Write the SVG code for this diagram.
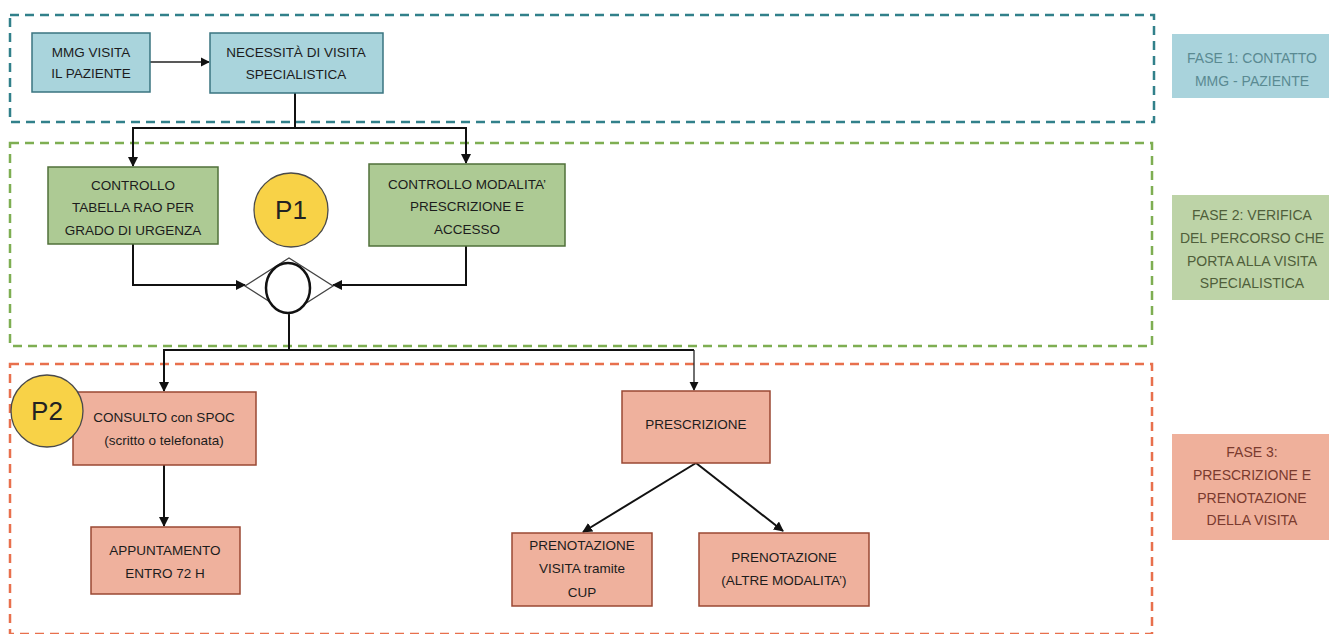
<svg xmlns="http://www.w3.org/2000/svg" width="1329" height="634" viewBox="0 0 1329 634">
  <style>
    text { font-family: "Liberation Sans", Arial, sans-serif; font-size: 13.5px; fill: #1c1c1c; text-anchor: middle; }
    .phase { fill: none; stroke-width: 2.5; stroke-dasharray: 9 6; }
    .p1 { stroke: #31808A; }
    .p2 { stroke: #7EAE52; }
    .p3 { stroke: #E8704D; }
    .n1 { fill: #A9D4DC; stroke: #3A7480; stroke-width: 1.5; }
    .n2 { fill: #ADCA94; stroke: #50703A; stroke-width: 1.5; }
    .n3 { fill: #EFB19D; stroke: #9A4833; stroke-width: 1.5; }
    .badge { fill: #F8D247; stroke: #4A4A4A; stroke-width: 1.3; }
    .badge-t { font-size: 26px; fill: #222; }
    .lab1 { fill: #A9D3DC; }
    .lab2 { fill: #BDD3A7; }
    .lab3 { fill: #EFB09B; }
    .lt1 { fill: #5A8A92; font-size: 14px; }
    .lt2 { fill: #4F5E3A; font-size: 14px; }
    .lt3 { fill: #7A3A2E; font-size: 14px; }
    .wire { fill: none; stroke: #111; stroke-width: 2; }
    .thin { fill: none; stroke: #222; stroke-width: 1.3; }
  </style>
  <defs>
    <marker id="arrow" viewBox="0 0 10 10" refX="9" refY="5" markerWidth="5" markerHeight="5" orient="auto" markerUnits="strokeWidth">
      <path d="M0,0 L10,5 L0,10 z" fill="#111"/>
    </marker>
    <marker id="arrowT" viewBox="0 0 10 10" refX="9" refY="5" markerWidth="7" markerHeight="7" orient="auto" markerUnits="strokeWidth">
      <path d="M0,0 L10,5 L0,10 z" fill="#111"/>
    </marker>
  </defs>

  <!-- phase frames -->
  <g id="phases">
    <rect class="phase p1" x="10" y="15" width="1144" height="107"/>
    <rect class="phase p2" x="10" y="143" width="1142" height="203"/>
    <rect class="phase p3" x="10" y="364" width="1142" height="270"/>
  </g>

  <!-- phase labels -->
  <g id="label-fase1">
    <rect class="lab1" x="1172" y="34" width="157" height="64"/>
    <text class="lt1" x="1252" y="63">FASE 1: CONTATTO</text>
    <text class="lt1" x="1252" y="86">MMG - PAZIENTE</text>
  </g>
  <g id="label-fase2">
    <rect class="lab2" x="1172" y="195" width="157" height="105"/>
    <text class="lt2" x="1252" y="220">FASE 2: VERIFICA</text>
    <text class="lt2" x="1252" y="243">DEL PERCORSO CHE</text>
    <text class="lt2" x="1252" y="266">PORTA ALLA VISITA</text>
    <text class="lt2" x="1252" y="288">SPECIALISTICA</text>
  </g>
  <g id="label-fase3">
    <rect class="lab3" x="1172" y="434" width="157" height="106"/>
    <text class="lt3" x="1252" y="457">FASE 3:</text>
    <text class="lt3" x="1252" y="480">PRESCRIZIONE E</text>
    <text class="lt3" x="1252" y="503">PRENOTAZIONE</text>
    <text class="lt3" x="1252" y="525">DELLA VISITA</text>
  </g>

  <!-- connectors -->
  <g id="connectors">
    <line class="thin" x1="150" y1="62" x2="209" y2="62" marker-end="url(#arrowT)"/>
    <polyline class="wire" points="295,93 295,128 133,128 133,166" marker-end="url(#arrow)"/>
    <polyline class="wire" points="295,128 466,128 466,163" marker-end="url(#arrow)"/>
    <polyline class="wire" points="133,244 133,285 245,285" marker-end="url(#arrow)"/>
    <polyline class="wire" points="466,246 466,285 333,285" marker-end="url(#arrow)"/>
    <polyline class="wire" points="289,314 289,350 164,350 164,391" marker-end="url(#arrow)"/>
    <polyline class="wire" points="289,350 694,350"/>
    <line class="thin" x1="694" y1="350" x2="694" y2="390" marker-end="url(#arrowT)"/>
    <line class="wire" x1="164" y1="465" x2="164" y2="526" marker-end="url(#arrow)"/>
    <line class="wire" x1="696" y1="463" x2="583" y2="532" marker-end="url(#arrow)"/>
    <line class="wire" x1="696" y1="463" x2="783" y2="531" marker-end="url(#arrow)"/>
  </g>

  <!-- phase 1 nodes -->
  <g id="mmg-visita">
    <rect class="n1" x="32" y="33" width="118" height="59"/>
    <text x="91" y="57">MMG VISITA</text>
    <text x="91" y="78">IL PAZIENTE</text>
  </g>
  <g id="necessita-visita">
    <rect class="n1" x="210" y="33" width="173" height="60"/>
    <text x="296" y="57">NECESSITÀ DI VISITA</text>
    <text x="296" y="79">SPECIALISTICA</text>
  </g>

  <!-- phase 2 nodes -->
  <g id="controllo-rao">
    <rect class="n2" x="48" y="167" width="170" height="77"/>
    <text x="133" y="190">CONTROLLO</text>
    <text x="133" y="212">TABELLA RAO PER</text>
    <text x="133" y="235">GRADO DI URGENZA</text>
  </g>
  <g id="controllo-modalita">
    <rect class="n2" x="369" y="164" width="196" height="82"/>
    <text x="467" y="189">CONTROLLO MODALITA’</text>
    <text x="467" y="211">PRESCRIZIONE E</text>
    <text x="467" y="234">ACCESSO</text>
  </g>
  <g id="p1">
    <circle class="badge" cx="291" cy="210" r="37"/>
    <text class="badge-t" x="291" y="219">P1</text>
  </g>
  <g id="gateway">
    <polygon points="245,286 289,258 333,286 289,314" fill="#fff" stroke="#444" stroke-width="1.3"/>
    <ellipse cx="288" cy="288" rx="22" ry="25" fill="#fff" stroke="#111" stroke-width="2.5"/>
  </g>

  <!-- phase 3 nodes -->
  <g id="consulto-spoc">
    <rect class="n3" x="73" y="392" width="183" height="73"/>
    <text x="164" y="422">CONSULTO con SPOC</text>
    <text x="164" y="445">(scritto o telefonata)</text>
  </g>
  <g id="p2">
    <circle class="badge" cx="47" cy="411" r="36"/>
    <text class="badge-t" x="47" y="420">P2</text>
  </g>
  <g id="appuntamento">
    <rect class="n3" x="91" y="527" width="149" height="67"/>
    <text x="165" y="555">APPUNTAMENTO</text>
    <text x="165" y="578">ENTRO 72 H</text>
  </g>
  <g id="prescrizione">
    <rect class="n3" x="622" y="391" width="148" height="72"/>
    <text x="696" y="429">PRESCRIZIONE</text>
  </g>
  <g id="prenotazione-cup">
    <rect class="n3" x="512" y="533" width="140" height="73"/>
    <text x="582" y="550">PRENOTAZIONE</text>
    <text x="582" y="573">VISITA tramite</text>
    <text x="582" y="597">CUP</text>
  </g>
  <g id="prenotazione-altre">
    <rect class="n3" x="699" y="533" width="170" height="73"/>
    <text x="784" y="562">PRENOTAZIONE</text>
    <text x="784" y="585">(ALTRE MODALITA’)</text>
  </g>
</svg>
